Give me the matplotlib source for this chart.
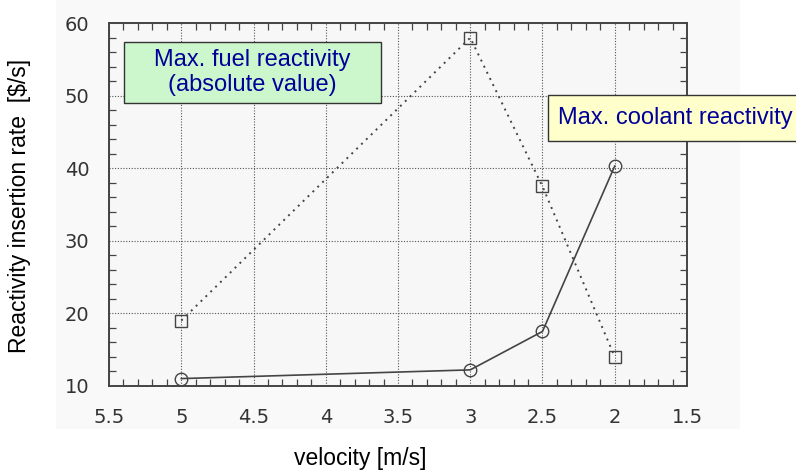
import matplotlib.pyplot as plt
from matplotlib.patches import Rectangle
from matplotlib.ticker import MultipleLocator

velocity = [5, 3, 2.5, 2]
fuel_rate = [19, 58, 37.5, 14]
coolant_rate = [11, 12.2, 17.5, 40.3]
xtick_vals = [5.5, 5, 4.5, 4, 3.5, 3, 2.5, 2, 1.5]
xtick_labels = ['5.5', '5', '4.5', '4', '3.5', '3', '2.5', '2', '1.5']

fig = plt.figure(figsize=(7.96, 4.74), dpi=100)
fig.patch.set_facecolor('white')
# faint grey of the scanned plot area
fig.patches.append(Rectangle((0.07, 0.095), 0.86, 0.905, transform=fig.transFigure,
                             facecolor='#f9f9f9', edgecolor='none', zorder=-10))
ax = fig.add_axes([0.137, 0.186, 0.726, 0.765])
ax.set_facecolor('#f7f7f7')

# fuel: dotted line with squares, coolant: solid line with circles
ax.plot(velocity, fuel_rate, color='#444444', linestyle=(0, (1, 2.5)), linewidth=1.4,
        marker='s', markersize=8, markerfacecolor='none', markeredgecolor='#444444')
ax.plot(velocity, coolant_rate, color='#444444', linestyle='-', linewidth=1.2,
        marker='o', markersize=9, markerfacecolor='none', markeredgecolor='#444444')

ax.set_xlim(5.5, 1.5)
ax.set_ylim(10, 60)
ax.xaxis.set_minor_locator(MultipleLocator(0.1))
ax.yaxis.set_major_locator(MultipleLocator(10))
ax.yaxis.set_minor_locator(MultipleLocator(2))
ax.set_xticks(xtick_vals)
ax.set_xticklabels(xtick_labels)

ax.tick_params(which='both', direction='in', top=True, right=True, color='#444444')
ax.tick_params(axis='x', which='major', length=0, labelsize=14, labelcolor='#333333', pad=16)
ax.tick_params(axis='y', which='major', length=0, labelsize=14, labelcolor='#333333', pad=14)
ax.tick_params(which='minor', length=5, width=0.9)
ax.grid(True, which='major', color='#555555', linestyle=(0, (1, 1.5)), linewidth=0.8)
for s in ax.spines.values():
    s.set_color('#444444')
    s.set_linewidth(1.4)

fig.text(0.025, 0.565, 'Reactivity insertion rate  [\\$/s]', rotation=90,
         ha='center', va='center', fontsize=16.5, family='Liberation Sans')
fig.text(0.452, 0.032, 'velocity [m/s]', ha='center', va='center',
         fontsize=16.5, family='Liberation Sans')

# annotation boxes
fig.patches.append(Rectangle((0.156, 0.783), 0.323, 0.129, transform=fig.transFigure,
                             facecolor='#ccf7cc', edgecolor='#333333', linewidth=1, zorder=5))
fig.text(0.317, 0.847, 'Max. fuel reactivity\n(absolute value)', ha='center', va='center',
         fontsize=17, color='#000099', family='Liberation Sans', linespacing=1.15, zorder=6)
fig.patches.append(Rectangle((0.688, 0.703), 0.4, 0.097, transform=fig.transFigure,
                             facecolor='#ffffcc', edgecolor='#333333', linewidth=1, zorder=5))
fig.text(0.701, 0.751, 'Max. coolant reactivity', ha='left', va='center',
         fontsize=17, color='#000099', family='Liberation Sans', zorder=6)

plt.savefig('out.png', dpi=100)
